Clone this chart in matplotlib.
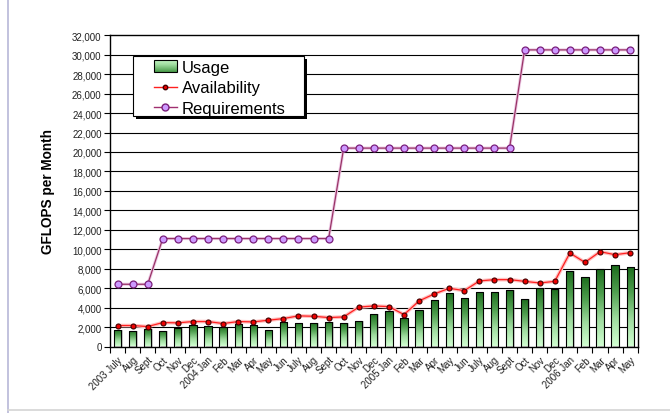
import numpy as np
import matplotlib
matplotlib.use("Agg")
import matplotlib.pyplot as plt
import matplotlib.transforms as mtransforms
from matplotlib.colors import LinearSegmentedColormap
from matplotlib.legend_handler import HandlerBase, HandlerLine2D
from matplotlib.lines import Line2D
from matplotlib.patches import Rectangle, Patch
from matplotlib.ticker import FuncFormatter, MultipleLocator, FixedLocator

plt.rcParams['font.family'] = ['Liberation Sans', 'DejaVu Sans']

months = ['2003 July', 'Aug', 'Sept', 'Oct', 'Nov', 'Dec',
          '2004 Jan', 'Feb', 'Mar', 'Apr', 'May', 'Jun', 'July', 'Aug', 'Sept', 'Oct', 'Nov', 'Dec',
          '2005 Jan', 'Feb', 'Mar', 'Apr', 'May', 'Jun', 'July', 'Aug', 'Sept', 'Oct', 'Nov', 'Dec',
          '2006 Jan', 'Feb', 'Mar', 'Apr', 'May']

usage = [1710, 1640, 1850, 1640, 1880, 2190, 2090, 2050, 2290, 2190, 1740, 2500,
         2390, 2390, 2530, 2390, 2670, 3320, 3625, 2975, 3730, 4750, 5470, 4990,
         5640, 5610, 5810, 4890, 6020, 5880, 7730, 7180, 8000, 8345, 8140]

availability = [2155, 2155, 2050, 2460, 2430, 2565, 2565, 2360, 2565, 2530, 2700, 2870,
                3150, 3110, 2975, 3040, 4050, 4170, 4100, 3280, 4685, 5400, 5985, 5745,
                6740, 6875, 6875, 6700, 6530, 6700, 9610, 8650, 9750, 9440, 9645]

requirements = [6400] * 3 + [11100] * 12 + [20400] * 12 + [30500] * 8

W, H, DPI = 670, 414, 100
fig = plt.figure(figsize=(W / DPI, H / DPI), dpi=DPI)
fig.patch.set_facecolor('white')

# page frame lines
fig.add_artist(Line2D([8 / W, 8 / W], [0.0, 1.0], color='#b8b8d8', lw=1.2,
                      transform=fig.transFigure))
fig.add_artist(Line2D([8 / W, 1.0], [3 / H, 3 / H], color='#d4d4d4', lw=1.2,
                      transform=fig.transFigure))

ax = fig.add_axes([110 / W, 1 - 347.5 / H, (637.7 - 110) / W, (347.5 - 36.3) / H])

x = np.arange(len(months))

# horizontal grid
for yv in range(2000, 32000, 2000):
    ax.axhline(yv, color='black', lw=0.8, zorder=1)

green_cmap = LinearSegmentedColormap.from_list('g', ['#d2ffd2', '#9fdc9f', '#4f9f4f', '#1a6a1a'])

bars = ax.bar(x, usage, width=0.48, facecolor='none', edgecolor='black', lw=0.8, zorder=4)
grad = np.linspace(0, 1, 256).reshape(-1, 1)
for b in bars:
    bx, by, bw, bh = b.get_x(), b.get_y(), b.get_width(), b.get_height()
    # soft shadow to the right of each column
    ax.add_patch(Rectangle((bx + 0.09, by), bw, bh, facecolor='#9a9a9a', alpha=0.5,
                           edgecolor='none', zorder=2))
    im = ax.imshow(grad, cmap=green_cmap, extent=(bx, bx + bw, by, by + bh),
                   origin='lower', aspect='auto', zorder=3, interpolation='bilinear')
    im.set_clip_path(b)

# availability line with soft halo
ax.plot(x, availability, color='#ffc0c0', lw=2.6, zorder=5, solid_capstyle='round')
ax.plot(x, availability, color='#ff2020', lw=0.9, zorder=6, marker='o', markersize=3.6,
        markerfacecolor='#ee0000', markeredgecolor='#400000', markeredgewidth=0.8)

# requirements line
ax.plot(x, requirements, color='#ecc8e4', lw=2.2, zorder=5)
ax.plot(x, requirements, color='#993366', lw=0.9, zorder=6, marker='o', markersize=5.0,
        markerfacecolor='#cc99ff', markeredgecolor='#7a1f7a', markeredgewidth=0.9)

ax.set_xlim(-0.5, len(months) - 0.5)
ax.set_ylim(0, 32000)
ax.yaxis.set_major_locator(MultipleLocator(2000))
ax.yaxis.set_major_formatter(FuncFormatter(lambda v, p: f'{int(v):,}'))
ax.tick_params(axis='y', direction='out', length=4, width=0.8, labelsize=7, pad=2,
               labelcolor='#222222')

ax.xaxis.set_major_locator(FixedLocator(x))
ax.set_xticklabels(months, rotation=45, ha='right', va='top', rotation_mode='anchor',
                   fontsize=7, color='#222222')
shift = mtransforms.ScaledTranslation(-4 / DPI, 0, fig.dpi_scale_trans)
for lbl in ax.get_xticklabels():
    lbl.set_transform(lbl.get_transform() + shift)
ax.xaxis.set_minor_locator(FixedLocator(np.arange(-0.5, len(months), 1.0)))
ax.tick_params(axis='x', which='major', length=0, pad=5.5)
ax.tick_params(axis='x', which='minor', direction='out', length=4, width=0.8)

for s in ax.spines.values():
    s.set_linewidth(1.0)
    s.set_color('black')

ax.set_ylabel('GFLOPS per Month', fontsize=9.8, fontweight='bold', labelpad=12)


class GradientHandler(HandlerBase):
    def create_artists(self, legend, orig_handle, xdescent, ydescent, width, height,
                       fontsize, trans):
        arts = []
        n = 12
        for i in range(n):
            c = green_cmap(1 - (i + 0.5) / n * 0.6 - 0.3)
            arts.append(Rectangle((-xdescent, -ydescent + height * i / n), width, height / n,
                                  facecolor=c, edgecolor='none', transform=trans))
        arts.append(Rectangle((-xdescent, -ydescent), width, height, facecolor='none',
                              edgecolor='black', lw=0.8, transform=trans))
        return arts


# legend box with a drop shadow, placed in pixel coordinates
def px_box(x0, y0, x1, y1):
    return (x0 / W, 1 - y1 / H), (x1 - x0) / W, (y1 - y0) / H


(bx0, by0), bw_, bh_ = px_box(133, 57, 304, 117)
fig.add_artist(Rectangle((bx0 + 3 / W, by0 - 3 / H), bw_, bh_, transform=fig.transFigure,
                         facecolor='black', edgecolor='none', zorder=20))
fig.add_artist(Rectangle((bx0, by0), bw_, bh_, transform=fig.transFigure,
                         facecolor='white', edgecolor='black', lw=0.8, zorder=21))

usage_handle = Patch(facecolor='#8fd08f', edgecolor='black')
avail_handle = Line2D([], [], color='#ff2020', lw=1.0, marker='o', markersize=3.2,
                      markerfacecolor='#ee0000', markeredgecolor='#400000')
req_handle = Line2D([], [], color='#a03070', lw=1.0, marker='o', markersize=5.0,
                    markerfacecolor='#cc99ff', markeredgecolor='#7a1f7a')

leg = fig.legend([usage_handle, avail_handle, req_handle],
                 ['Usage', 'Availability', 'Requirements'],
                 handler_map={Patch: GradientHandler(), Line2D: HandlerLine2D()},
                 loc='upper left', bbox_to_anchor=(154 / W, 1 - 61 / H), fontsize=12,
                 frameon=False, borderpad=0, labelspacing=0.32,
                 handlelength=1.35, handletextpad=0.3, borderaxespad=0)
leg.set_zorder(22)

fig.savefig('out.png', dpi=DPI, facecolor='white')
